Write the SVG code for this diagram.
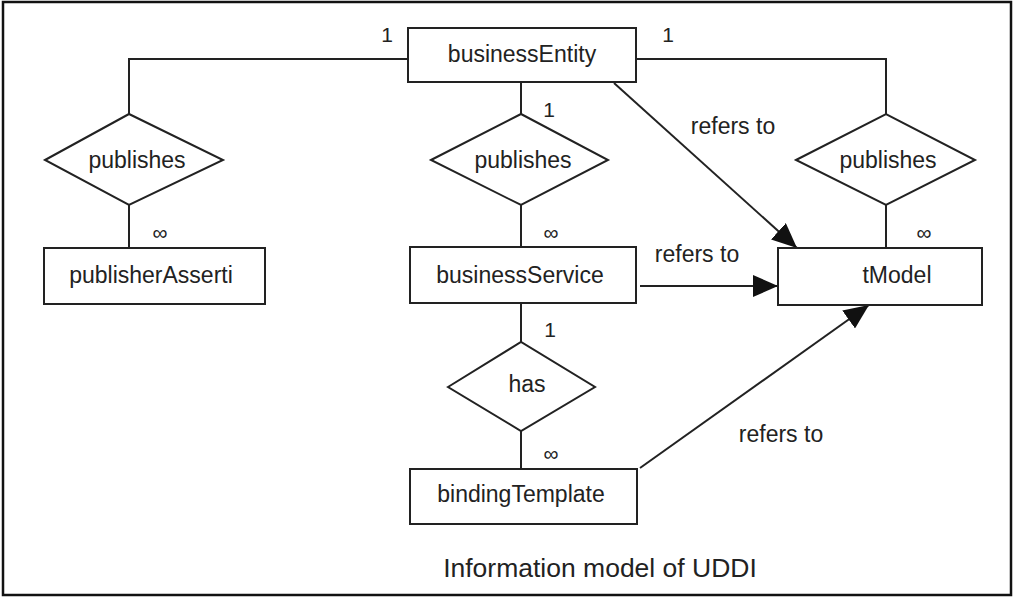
<svg xmlns="http://www.w3.org/2000/svg" width="1014" height="598" viewBox="0 0 1014 598">
<style>
.box{fill:#fff;stroke:#222;stroke-width:2}
.ln{fill:none;stroke:#222;stroke-width:2}
.t{font-family:"Liberation Sans",Arial,sans-serif;font-size:23px;fill:#222;text-anchor:middle}
.s{font-family:"Liberation Sans",Arial,sans-serif;font-size:21px;fill:#222;text-anchor:middle}
</style>
<defs>
<marker id="ah" markerUnits="userSpaceOnUse" markerWidth="26" markerHeight="22" refX="25" refY="11" orient="auto">
<path d="M0,0 L25,11 L0,22 z" fill="#111"/>
</marker>
</defs>
<rect x="0" y="0" width="1014" height="598" fill="#fff"/>
<rect x="3" y="2" width="1008" height="593" fill="none" stroke="#111" stroke-width="2.5"/>
<g id="connectors">
<polyline class="ln" points="408,59 129,59 129,114"/>
<line class="ln" x1="129" y1="205" x2="129" y2="248"/>
<line class="ln" x1="521" y1="82" x2="521" y2="114"/>
<line class="ln" x1="521" y1="205" x2="521" y2="247"/>
<polyline class="ln" points="636,59 886,59 886,114"/>
<line class="ln" x1="886" y1="205" x2="886" y2="248"/>
<line class="ln" x1="521" y1="303" x2="521" y2="342"/>
<line class="ln" x1="521" y1="431" x2="521" y2="469"/>
<line class="ln" x1="614" y1="83" x2="797" y2="248" marker-end="url(#ah)"/>
<line class="ln" x1="640" y1="286" x2="778" y2="286" marker-end="url(#ah)"/>
<line class="ln" x1="640" y1="468" x2="869" y2="305" marker-end="url(#ah)"/>
<text class="s" x="387" y="42">1</text>
<text class="s" x="668" y="42">1</text>
<text class="s" x="549" y="117">1</text>
<text class="s" x="550" y="337">1</text>
<text class="s" x="160" y="240">∞</text>
<text class="s" x="551" y="240">∞</text>
<text class="s" x="924" y="240">∞</text>
<text class="s" x="551" y="461">∞</text>
<text class="t" x="733" y="134">refers to</text>
<text class="t" x="697" y="262">refers to</text>
<text class="t" x="781" y="442">refers to</text>
</g>
<g id="businessEntity">
<rect class="box" x="408" y="28" width="228" height="54"/>
<text class="t" x="522" y="62">businessEntity</text>
</g>
<g id="publishes-left">
<polygon class="box" points="45,160 129,114 223,160 129,205"/>
<text class="t" x="137" y="168">publishes</text>
</g>
<g id="publishes-mid">
<polygon class="box" points="431,160 521,114 608,160 521,205"/>
<text class="t" x="523" y="168">publishes</text>
</g>
<g id="publishes-right">
<polygon class="box" points="796,160 886,114 975,160 886,205"/>
<text class="t" x="888" y="168">publishes</text>
</g>
<g id="publisherAssertion">
<rect class="box" x="44" y="248" width="221" height="56"/>
<text class="t" x="151" y="283">publisherAsserti</text>
</g>
<g id="businessService">
<rect class="box" x="410" y="247" width="226" height="56"/>
<text class="t" x="520" y="283">businessService</text>
</g>
<g id="tModel">
<rect class="box" x="778" y="248" width="204" height="57"/>
<text class="t" x="897" y="283">tModel</text>
</g>
<g id="has">
<polygon class="box" points="448,387 521,342 595,387 521,431"/>
<text class="t" x="527" y="392">has</text>
</g>
<g id="bindingTemplate">
<rect class="box" x="410" y="469" width="227" height="55"/>
<text class="t" x="521" y="502">bindingTemplate</text>
</g>
<text class="t" x="600" y="577" style="font-size:26.5px">Information model of UDDI</text>
</svg>
